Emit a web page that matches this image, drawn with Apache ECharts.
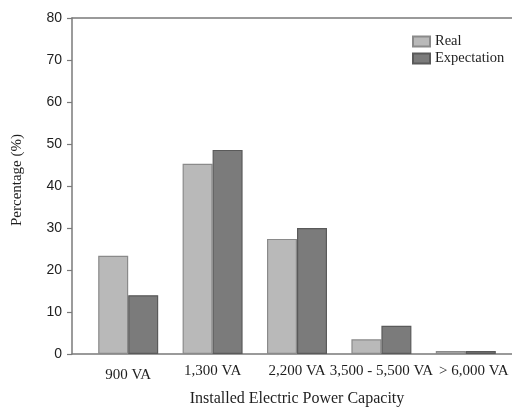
<!DOCTYPE html>
<html>
<head>
<meta charset="utf-8">
<script src="https://cdn.jsdelivr.net/npm/echarts@6/dist/echarts.min.js"></script>
<style>
  html, body { margin: 0; padding: 0; background: #fff; }
  #chart { width: 512px; height: 408px; }
</style>
</head>
<body>
<div id="chart"></div>
<script>
// Installed electric power capacity: real vs expected share of households
const categories = ['900 VA', '1,300 VA', '2,200 VA', '3,500 - 5,500 VA', '> 6,000 VA'];
const realValues = [23.4, 45.3, 27.4, 3.5, 0.7];
const expectationValues = [14.0, 48.6, 30.0, 6.7, 0.7];
const yTicks = { min: 0, max: 80, interval: 10 };

const serif = '"Liberation Serif", "Times New Roman", serif';
const sans = '"Liberation Sans", Arial, sans-serif';
const axisColor = '#7a7a7a';
const textColor = '#1e1e1e';

// a few category labels sit slightly off-centre under their bars
const labelNudges = {
  '900 VA': { padding: [4, 0, 0, 0] },
  '> 6,000 VA': { padding: [0, 0, 0, 16] }
};
const categoryItems = categories.map(c =>
  labelNudges[c] ? { value: c, textStyle: labelNudges[c] } : c
);

const chart = echarts.init(document.getElementById('chart'));
chart.setOption({
  animation: false,
  backgroundColor: '#ffffff',
  grid: [
    // frame grid: carries the value axis and the long bottom/top rules
    { left: 72, right: -4, top: 18, bottom: 54, outerBoundsMode: 'none', containLabel: false },
    // bar grid: the category slots
    { left: 86, right: 4, top: 18, bottom: 54, outerBoundsMode: 'none', containLabel: false }
  ],
  legend: {
    orient: 'vertical',
    left: 407,
    top: 29,
    itemWidth: 17,
    itemHeight: 10,
    itemGap: 2,
    icon: 'rect',
    textStyle: { fontFamily: serif, fontSize: 14.5, color: textColor },
    data: ['Real', 'Expectation']
  },
  xAxis: [
    {
      gridIndex: 0, type: 'category', data: categories, position: 'bottom',
      axisLine: { show: true, lineStyle: { color: axisColor, width: 1.5 } },
      axisTick: { show: false }, axisLabel: { show: false }, splitLine: { show: false }
    },
    {
      gridIndex: 0, type: 'category', data: categories, position: 'top',
      axisLine: { show: true, lineStyle: { color: axisColor, width: 1.5 } },
      axisTick: { show: false }, axisLabel: { show: false }, splitLine: { show: false }
    },
    {
      gridIndex: 1, type: 'category', data: categoryItems,
      axisLine: { show: false }, axisTick: { show: false },
      axisLabel: { margin: 10, fontFamily: serif, fontSize: 15, color: textColor, interval: 0, hideOverlap: false },
      name: 'Installed Electric Power Capacity',
      nameLocation: 'middle', nameGap: 37,
      nameTextStyle: { fontFamily: serif, fontSize: 16, color: textColor }
    }
  ],
  yAxis: [
    {
      gridIndex: 0, type: 'value', min: yTicks.min, max: yTicks.max, interval: yTicks.interval,
      axisLine: { show: true, lineStyle: { color: axisColor, width: 1.5 } },
      axisTick: { show: true, length: 5, lineStyle: { color: axisColor, width: 1.2 } },
      axisLabel: { margin: 10, fontFamily: sans, fontSize: 14, color: textColor },
      splitLine: { show: false },
      name: 'Percentage (%)', nameLocation: 'middle', nameGap: 47,
      nameTextStyle: { fontFamily: serif, fontSize: 15, color: textColor, padding: [0, 0, 0, 12] }
    },
    {
      gridIndex: 1, type: 'value', min: yTicks.min, max: yTicks.max, interval: yTicks.interval,
      show: false
    }
  ],
  series: [
    {
      name: 'Real', type: 'bar', xAxisIndex: 2, yAxisIndex: 1,
      data: realValues, barWidth: 30, barGap: '0%',
      itemStyle: { color: '#b9b9b9', borderColor: '#8a8a8a', borderWidth: 1.2 }
    },
    {
      name: 'Expectation', type: 'bar', xAxisIndex: 2, yAxisIndex: 1,
      data: expectationValues, barWidth: 30, barGap: '0%',
      itemStyle: { color: '#7b7b7b', borderColor: '#5a5a5a', borderWidth: 1.2 }
    }
  ]
});
</script>
</body>
</html>
